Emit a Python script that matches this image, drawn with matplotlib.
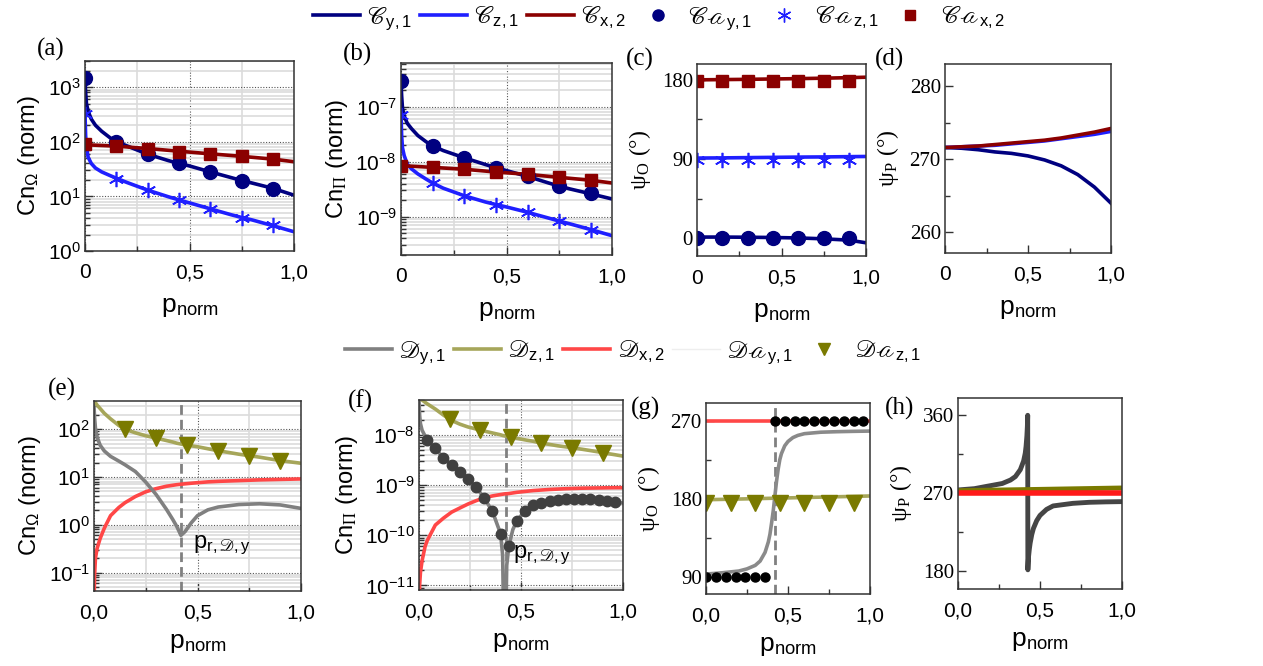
import numpy as np
import matplotlib
matplotlib.use('Agg')
import matplotlib.pyplot as plt
from matplotlib.ticker import FixedLocator, FuncFormatter, LogLocator, NullFormatter
from matplotlib.lines import Line2D

plt.rcParams['font.family'] = ['Liberation Sans', 'DejaVu Sans']
plt.rcParams['mathtext.fontset'] = 'stix'

# ---------------- data ----------------
xtick_top = ['0', '0,5', '1,0']
xtick_bot = ['0,0', '0,5', '1,0']

# (a) Cn_Omega, C modes
x_a = [0, 0.003, 0.007, 0.015, 0.03, 0.05, 0.08, 0.12, 0.15, 0.2, 0.3, 0.4, 0.45, 0.5, 0.6, 0.7, 0.75, 0.8, 0.9, 1.0]
Cy1_a = [1500, 800, 500, 360, 260, 200, 155, 118, 100, 84, 59, 45, 40, 36, 28, 22, 19.5, 17.5, 14, 10.5]
Cz1_a = [320, 130, 80, 52, 40, 33, 28, 24, 21.5, 18, 13, 9.8, 8.6, 7.6, 5.9, 4.6, 4.1, 3.7, 2.9, 2.25]
x_lin = [0, 0.15, 0.3, 0.45, 0.6, 0.75, 0.9, 1.0]
Cx2_a = [88, 83, 75, 67, 60, 54, 48, 43]
x_mk = [0, 0.15, 0.3, 0.45, 0.6, 0.75, 0.9]
Cay1_a = [1450, 100, 60, 40, 27.5, 19.5, 13.8]
Caz1_a = [320, 21, 13, 8.5, 5.8, 4.1, 2.95]
Cax2_a = [89, 83, 75, 66, 60, 55, 49]

# (b) Cn_Pi, C modes
Cy1_b = [2.9e-7, 1.6e-7, 9.5e-8, 6.8e-8, 5e-8, 4e-8, 3e-8, 2.3e-8, 1.95e-8, 1.6e-8, 1.18e-8, 8.9e-9, 7.8e-9, 6.9e-9, 5.4e-9, 4.1e-9, 3.6e-9, 3.2e-9, 2.6e-9, 2.1e-9]
Cz1_b = [7.6e-8, 3e-8, 1.8e-8, 1.3e-8, 9e-9, 7.4e-9, 6e-9, 4.8e-9, 4.1e-9, 3.3e-9, 2.4e-9, 1.85e-9, 1.66e-9, 1.5e-9, 1.2e-9, 9.4e-10, 8.3e-10, 7.4e-10, 5.8e-10, 4.5e-10]
Cx2_b = [8.5e-9, 7.9e-9, 7.3e-9, 6.5e-9, 5.9e-9, 5.2e-9, 4.6e-9, 4.1e-9]
Cay1_b = [2.9e-7, 1.95e-8, 1.18e-8, 7.7e-9, 5.4e-9, 3.6e-9, 2.7e-9]
Caz1_b = [7e-8, 4.1e-9, 2.4e-9, 1.66e-9, 1.2e-9, 8.2e-10, 5.8e-10]
Cax2_b = [8.5e-9, 7.9e-9, 7.3e-9, 6.5e-9, 5.9e-9, 5.2e-9, 4.6e-9]

# (c) psi_O, C modes
Cy1_c = [1.5, 1.5, 1.3, 1.0, 0.5, -0.5, -2, -5]
Cz1_c = [91.2, 91.4, 91.7, 92.0, 92.3, 92.5, 92.8, 93.0]
Cx2_c = [180, 180.3, 180.6, 181, 181.4, 181.9, 182.5, 183]
Cay1_c = [0, 0, 0, 0, 0, 0, 0]
Caz1_c = [89, 89, 89, 89, 89, 89, 89]
Cax2_c = [178.5, 178.5, 178.5, 178.5, 178.5, 178.5, 178.5]

# (d) psi_P, C modes
x_d = [0, 0.1, 0.2, 0.3, 0.4, 0.5, 0.6, 0.7, 0.8, 0.9, 1.0]
Cy1_d = [271.6, 271.5, 271.3, 271.0, 270.8, 270.45, 269.9, 269.1, 267.9, 266.2, 264.0]
Cz1_d = [271.6, 271.7, 271.8, 271.9, 272.1, 272.3, 272.5, 272.8, 273.1, 273.4, 273.8]
Cx2_d = [271.6, 271.7, 271.8, 272.0, 272.2, 272.4, 272.6, 272.9, 273.3, 273.7, 274.2]

# (e) Cn_Omega, D modes
x_e = [0, 0.003, 0.007, 0.015, 0.03, 0.05, 0.08, 0.12, 0.15, 0.2, 0.25, 0.3, 0.35, 0.38, 0.4, 0.42, 0.44, 0.47, 0.5, 0.55, 0.6, 0.7, 0.8, 0.9, 1.0]
Dy1_e = [300, 170, 105, 68, 46, 35, 27, 21.5, 18, 13, 7.8, 4.3, 2.1, 1.3, 0.92, 0.6, 0.72, 1.1, 1.55, 2.05, 2.35, 2.65, 2.75, 2.6, 2.2]
Dz1_e = [420, 390, 360, 320, 270, 215, 165, 120, 100, 84, 73, 65, 58, 54, 51, 49, 47, 45, 43, 39, 35.5, 30, 26, 22, 19.4]
Dx2_e = [0.02, 0.09, 0.2, 0.32, 0.52, 0.85, 1.55, 2.3, 2.9, 3.9, 4.9, 5.7, 6.4, 6.7, 6.9, 7.05, 7.2, 7.4, 7.6, 7.9, 8.1, 8.4, 8.7, 8.9, 9.1]
x_tri = [0.15, 0.3, 0.45, 0.6, 0.75, 0.9]
Daz1_e = [100, 65, 47, 35, 27.5, 22]

# (f) Cn_Pi, D modes
x_f = [0, 0.003, 0.007, 0.015, 0.03, 0.04, 0.08, 0.12, 0.16, 0.2, 0.24, 0.28, 0.32, 0.36, 0.4, 0.41, 0.42, 0.43, 0.44, 0.46, 0.48, 0.52, 0.56, 0.6, 0.64, 0.68, 0.72, 0.76, 0.8, 0.84, 0.88, 0.92, 0.96, 1.0]
Dy1_f = [5e-8, 2.5e-8, 1.7e-8, 1.25e-8, 9.5e-9, 8.1e-9, 5.4e-9, 3.5e-9, 2.5e-9, 1.85e-9, 1.34e-9, 9.1e-10, 5.5e-10, 3.0e-10, 1.07e-10, 4e-11, 1e-13, 2.5e-11, 6e-11, 1.3e-10, 1.95e-10, 3.1e-10, 4e-10, 4.5e-10, 4.9e-10, 5.1e-10, 5.3e-10, 5.4e-10, 5.4e-10, 5.3e-10, 5.1e-10, 4.9e-10, 4.6e-10, 4.4e-10]
Dz1_f = [8e-8, 6.8e-8, 6e-8, 5e-8, 4.5e-8, 4.2e-8, 3.3e-8, 2.5e-8, 1.95e-8, 1.65e-8, 1.45e-8, 1.32e-8, 1.2e-8, 1.1e-8, 1.01e-8, 9.8e-9, 9.6e-9, 9.4e-9, 9.2e-9, 8.9e-9, 8.6e-9, 8e-9, 7.5e-9, 6.9e-9, 6.5e-9, 6.1e-9, 5.8e-9, 5.5e-9, 5.2e-9, 4.9e-9, 4.6e-9, 4.3e-9, 4.05e-9, 3.8e-9]
Dx2_f = [1e-12, 1e-11, 1.8e-11, 3.1e-11, 6e-11, 7.8e-11, 1.6e-10, 2.2e-10, 2.9e-10, 3.5e-10, 4.2e-10, 4.9e-10, 5.6e-10, 6.1e-10, 6.5e-10, 6.6e-10, 6.7e-10, 6.75e-10, 6.8e-10, 7e-10, 7.2e-10, 7.5e-10, 7.8e-10, 8e-10, 8.2e-10, 8.35e-10, 8.5e-10, 8.6e-10, 8.7e-10, 8.75e-10, 8.8e-10, 8.85e-10, 8.9e-10, 8.9e-10]
x_dots_f = [0.04, 0.08, 0.12, 0.16, 0.2, 0.24, 0.28, 0.32, 0.36, 0.4, 0.44, 0.48, 0.52, 0.56, 0.6, 0.64, 0.68, 0.72, 0.76, 0.8, 0.84, 0.88, 0.92, 0.96]
Day1_f = [8.1e-9, 5.4e-9, 3.5e-9, 2.5e-9, 1.85e-9, 1.34e-9, 9.1e-10, 5.5e-10, 3.0e-10, 1.07e-10, 6e-11, 1.95e-10, 3.1e-10, 4e-10, 4.5e-10, 4.9e-10, 5.1e-10, 5.3e-10, 5.4e-10, 5.4e-10, 5.3e-10, 5.1e-10, 4.9e-10, 4.6e-10]
Daz1_f = [2.05e-8, 1.26e-8, 9.3e-9, 6.8e-9, 5.6e-9, 4.3e-9]

# (g) psi_O, D modes
x_g = [0, 0.1, 0.2, 0.25, 0.3, 0.33, 0.36, 0.38, 0.39, 0.40, 0.41, 0.42, 0.43, 0.44, 0.45, 0.46, 0.48, 0.5, 0.53, 0.56, 0.6, 0.7, 0.8, 0.9, 1.0]
Dy1_g = [93, 94.5, 96.5, 99, 103, 108, 118, 130, 139, 152, 166, 183, 200, 214, 225, 232, 241, 246, 250.5, 253, 255, 256.7, 257.3, 257.7, 258]
x_two = [0, 1.0]
Dx2_g = [270, 270]
x_five = [0, 0.25, 0.5, 0.75, 1.0]
Dz1_g = [178.8, 179.8, 180.9, 182.0, 183.1]
x_dots_g = [0, 0.06, 0.12, 0.18, 0.24, 0.3, 0.36, 0.42, 0.48, 0.54, 0.6, 0.66, 0.72, 0.78, 0.84, 0.9, 0.96]
Day1_g = [90, 90, 90, 90, 90, 90, 90, 270, 270, 270, 270, 270, 270, 270, 270, 270, 270]
Daz1_g = [175.5, 175.5, 175.5, 175.5, 175.5, 175.5, 175.5]

# (h) psi_P, D modes
x_h = [0, 0.1, 0.17, 0.27, 0.32, 0.35, 0.38, 0.40, 0.41, 0.415, 0.42, 0.423, 0.425, 0.426, 0.428, 0.43, 0.435, 0.44, 0.45, 0.46, 0.48, 0.5, 0.54, 0.58, 0.7, 0.8, 0.9, 1.0]
Dy1_h = [273.5, 275, 277.5, 281, 285, 289, 297, 307, 316, 324, 336, 347, 360, 181, 189, 196, 205, 212, 222, 229, 238, 244, 251, 255, 258, 259.2, 259.7, 260]
Dx2_h = [269.6, 269.6]
Dz1_h = [272.7, 274.2, 275.8]
x_three = [0, 0.5, 1.0]

p_res = 0.42

# ---------------- style ----------------
W, H = 1263, 666
c_y = '#000080'
c_z = '#1f1fff'
c_x = '#8b0000'
c_gray = '#808080'
c_dgray = '#404040'
c_olive_l = '#a6a65a'
c_olive = '#7a7a00'
c_red = '#ff4747'

fig = plt.figure(figsize=(W / 100, H / 100), dpi=100)


def make_ax(x0, y0, x1, y1):
    return fig.add_axes([x0 / W, 1 - y1 / H, (x1 - x0) / W, (y1 - y0) / H])


def base_style(ax, top_row):
    ax.set_xlim(0, 1)
    ax.xaxis.set_major_locator(FixedLocator([0, 0.5, 1.0]))
    ax.xaxis.set_minor_locator(FixedLocator([0.25, 0.75]))
    ax.set_xticklabels(xtick_top if top_row else xtick_bot)
    ax.tick_params(which='both', direction='in', top=False, right=False,
                   width=1.0, color='#333333')
    ax.tick_params(axis='x', which='major', length=6, labelsize=15, pad=9)
    ax.tick_params(axis='y', which='major', length=6)
    ax.tick_params(which='minor', length=3.5)
    for s in ax.spines.values():
        s.set_linewidth(1.1)
        s.set_color('#333333')
    ax.set_xlabel(r'$\mathregular{p}_{\mathregular{norm}}$', fontsize=19,
                  labelpad=9 if top_row else 6)


def log_style(ax, ylim, ylabel):
    ax.set_yscale('log')
    ax.set_ylim(*ylim)
    ax.yaxis.set_major_locator(LogLocator(base=10, numticks=20))
    ax.yaxis.set_minor_locator(LogLocator(base=10, subs=np.arange(2, 10), numticks=20))
    ax.yaxis.set_minor_formatter(NullFormatter())
    ax.yaxis.set_major_formatter(FuncFormatter(
        lambda v, p: r'$\mathregular{10^{%d}}$' % int(round(np.log10(v)))))
    ax.tick_params(axis='y', which='major', labelsize=15, pad=3)
    ax.grid(True, which='minor', color='#dcdcdc', lw=1.2, ls='-')
    ax.grid(True, which='major', color='#555555', lw=0.8, ls=(0, (1, 1.5)))
    ax.set_axisbelow(True)
    ax.set_ylabel(ylabel, fontsize=17, labelpad=4)


def lin_style(ax, ylim, major, minor, ylabel):
    ax.set_ylim(*ylim)
    ax.yaxis.set_major_locator(FixedLocator(major))
    ax.yaxis.set_minor_locator(FixedLocator(minor))
    ax.set_yticklabels([str(v) for v in major], family='Liberation Serif', fontsize=15)
    ax.tick_params(axis='y', which='major', pad=3)
    ax.set_ylabel(ylabel, fontsize=17, family='Liberation Serif', labelpad=6)


lw = 2.6
ast = (6, 2, 0)

# (a)
ax = make_ax(85, 61, 294, 251)
base_style(ax, True)
log_style(ax, (1, 3000), r'Cn$_{\mathregular{\Omega}}$ (norm)')
ax.plot(x_a, Cy1_a, color=c_y, lw=lw)
ax.plot(x_a, Cz1_a, color=c_z, lw=lw)
ax.plot(x_lin, Cx2_a, color=c_x, lw=lw)
ax.plot(x_mk, Cay1_a, ls='none', marker='o', ms=10, color=c_y)
ax.plot(x_mk, Caz1_a, ls='none', marker=ast, ms=11, mew=1.2, color=c_z)
ax.plot(x_mk, Cax2_a, ls='none', marker='s', ms=9, color=c_x)

# (b)
ax = make_ax(401, 63, 612, 255)
base_style(ax, True)
log_style(ax, (2e-10, 6.3e-7), r'Cn$_{\Pi}$ (norm)')
ax.plot(x_a, Cy1_b, color=c_y, lw=lw)
ax.plot(x_a, Cz1_b, color=c_z, lw=lw)
ax.plot(x_lin, Cx2_b, color=c_x, lw=lw)
ax.plot(x_mk, Cay1_b, ls='none', marker='o', ms=10, color=c_y)
ax.plot(x_mk, Caz1_b, ls='none', marker=ast, ms=11, mew=1.2, color=c_z)
ax.plot(x_mk, Cax2_b, ls='none', marker='s', ms=9, color=c_x)

# (c)
ax = make_ax(697, 64, 866, 256)
base_style(ax, True)
lin_style(ax, (-20, 198), [0, 90, 180], [45, 135], r'ψ$_{\mathregular{O}}$ (°)')
ax.plot(x_lin, Cy1_c, color=c_y, lw=lw)
ax.plot(x_lin, Cz1_c, color=c_z, lw=lw)
ax.plot(x_lin, Cx2_c, color=c_x, lw=lw)
ax.plot(x_mk, Cay1_c, ls='none', marker='o', ms=10, color=c_y)
ax.plot(x_mk, Caz1_c, ls='none', marker=ast, ms=11, mew=1.2, color=c_z)
ax.plot(x_mk, Cax2_c, ls='none', marker='s', ms=9, color=c_x)

# (d)
ax = make_ax(945, 64, 1111, 253)
base_style(ax, True)
lin_style(ax, (257.2, 283), [260, 270, 280], [265, 275], r'ψ$_{\mathregular{P}}$ (°)')
ax.plot(x_d, Cy1_d, color=c_y, lw=lw)
ax.plot(x_d, Cz1_d, color=c_z, lw=lw)
ax.plot(x_d, Cx2_d, color=c_x, lw=lw)

ann = r'p$_{\mathregular{r,}\mathscr{D}\mathregular{,y}}$'
dash = dict(color='#808080', lw=2, ls=(0, (3.5, 1.8)))

# (e)
ax = make_ax(94, 401, 301, 591)
base_style(ax, False)
log_style(ax, (0.041, 390), r'Cn$_{\mathregular{\Omega}}$ (norm)')
ax.axvline(p_res, **dash)
ax.plot(x_e, Dx2_e, color=c_red, lw=lw)
ax.plot(x_e, Dy1_e, color=c_gray, lw=lw)
ax.plot(x_e, Dz1_e, color=c_olive_l, lw=lw)
ax.plot(x_tri, Daz1_e, ls='none', marker='v', ms=11, color=c_olive)
ax.text(0.478, 0.38, ann, fontsize=17, va='center', ha='left')

# (f)
ax = make_ax(419, 400, 623, 590)
base_style(ax, False)
log_style(ax, (8.1e-12, 5e-8), r'Cn$_{\Pi}$ (norm)')
ax.axvline(p_res + 0.005, **dash)
ax.plot(x_f, Dx2_f, color=c_red, lw=lw)
ax.plot(x_f, Dy1_f, color=c_gray, lw=lw)
ax.plot(x_dots_f, Day1_f, ls='none', marker='o', ms=7.5, color=c_dgray)
ax.plot(x_f, Dz1_f, color=c_olive_l, lw=lw)
ax.plot(x_tri, Daz1_f, ls='none', marker='v', ms=11, color=c_olive)
ax.text(0.46, 4.1e-11, ann, fontsize=17, va='center', ha='left')

# (g)
ax = make_ax(706, 403, 870, 594)
base_style(ax, False)
lin_style(ax, (70, 290.4), [90, 180, 270], [135, 225], r'ψ$_{\mathregular{O}}$  (°)')
ax.axvline(p_res, **dash)
ax.plot(x_two, Dx2_g, color=c_red, lw=lw)
ax.plot(x_five, Dz1_g, color=c_olive_l, lw=lw)
ax.plot(x_g, Dy1_g, color='#8a8a8a', lw=lw)
ax.plot(x_dots_g, Day1_g, ls='none', marker='o', ms=6.5, color='black')
ax.plot(x_mk, Daz1_g, ls='none', marker='v', ms=11, color=c_olive)

# (h)
ax = make_ax(958, 398, 1122, 589)
base_style(ax, False)
lin_style(ax, (158.8, 380), [180, 270, 360], [225, 315], r'ψ$_{\mathregular{P}}$ (°)')
ax.plot(x_h, Dy1_h, color='#454545', lw=3.5)
ax.plot(x_three, Dz1_h, color=c_olive, lw=3.5)
ax.plot(x_two, Dx2_h, color='#ff1a1a', lw=4)

# panel labels
for lab, cx, cy in [('(a)', 51, 49), ('(b)', 357, 54), ('(c)', 640, 59), ('(d)', 890, 59),
                    ('(e)', 62, 389), ('(f)', 360, 401), ('(g)', 645, 408), ('(h)', 900, 408)]:
    fig.text(cx / W, 1 - cy / H, lab, family='Liberation Serif', fontsize=18,
             ha='center', va='center')

# legends
top_handles = [Line2D([], [], color=c_y, lw=2.6), Line2D([], [], color=c_z, lw=2.6),
               Line2D([], [], color=c_x, lw=2.6),
               Line2D([], [], ls='none', marker='o', ms=8, color=c_y),
               Line2D([], [], ls='none', marker=ast, ms=10, mew=1, color=c_z),
               Line2D([], [], ls='none', marker='s', ms=7, color=c_x)]
top_labels = [r'$\mathscr{C}_{\mathregular{y,1}}$', r'$\mathscr{C}_{\mathregular{z,1}}$',
              r'$\mathscr{C}_{\mathregular{x,2}}$', r'$\mathscr{Ca}_{\mathregular{y,1}}$',
              r'$\mathscr{Ca}_{\mathregular{z,1}}$', r'$\mathscr{Ca}_{\mathregular{x,2}}$']
fig.legend(top_handles, top_labels, loc='center', bbox_to_anchor=(659 / W, 1 - 18 / H),
           ncol=6, frameon=False, fontsize=17, handlelength=2.0, handletextpad=0.3,
           columnspacing=0.35, borderaxespad=0, borderpad=0)

bot_handles = [Line2D([], [], color=c_gray, lw=2.6), Line2D([], [], color=c_olive_l, lw=2.6),
               Line2D([], [], color=c_red, lw=2.6),
               Line2D([], [], color='#eeeeee', lw=1),
               Line2D([], [], ls='none', marker='v', ms=9, color=c_olive)]
bot_labels = [r'$\mathscr{D}_{\mathregular{y,1}}$', r'$\mathscr{D}_{\mathregular{z,1}}$',
              r'$\mathscr{D}_{\mathregular{x,2}}$', r'$\mathscr{Da}_{\mathregular{y,1}}$',
              r'$\mathscr{Da}_{\mathregular{z,1}}$']
fig.legend(bot_handles, bot_labels, loc='center', bbox_to_anchor=(633 / W, 1 - 352 / H),
           ncol=5, frameon=False, fontsize=17, handlelength=2.0, handletextpad=0.3,
           columnspacing=0.35, borderaxespad=0, borderpad=0)

fig.savefig('out.png', dpi=100)
